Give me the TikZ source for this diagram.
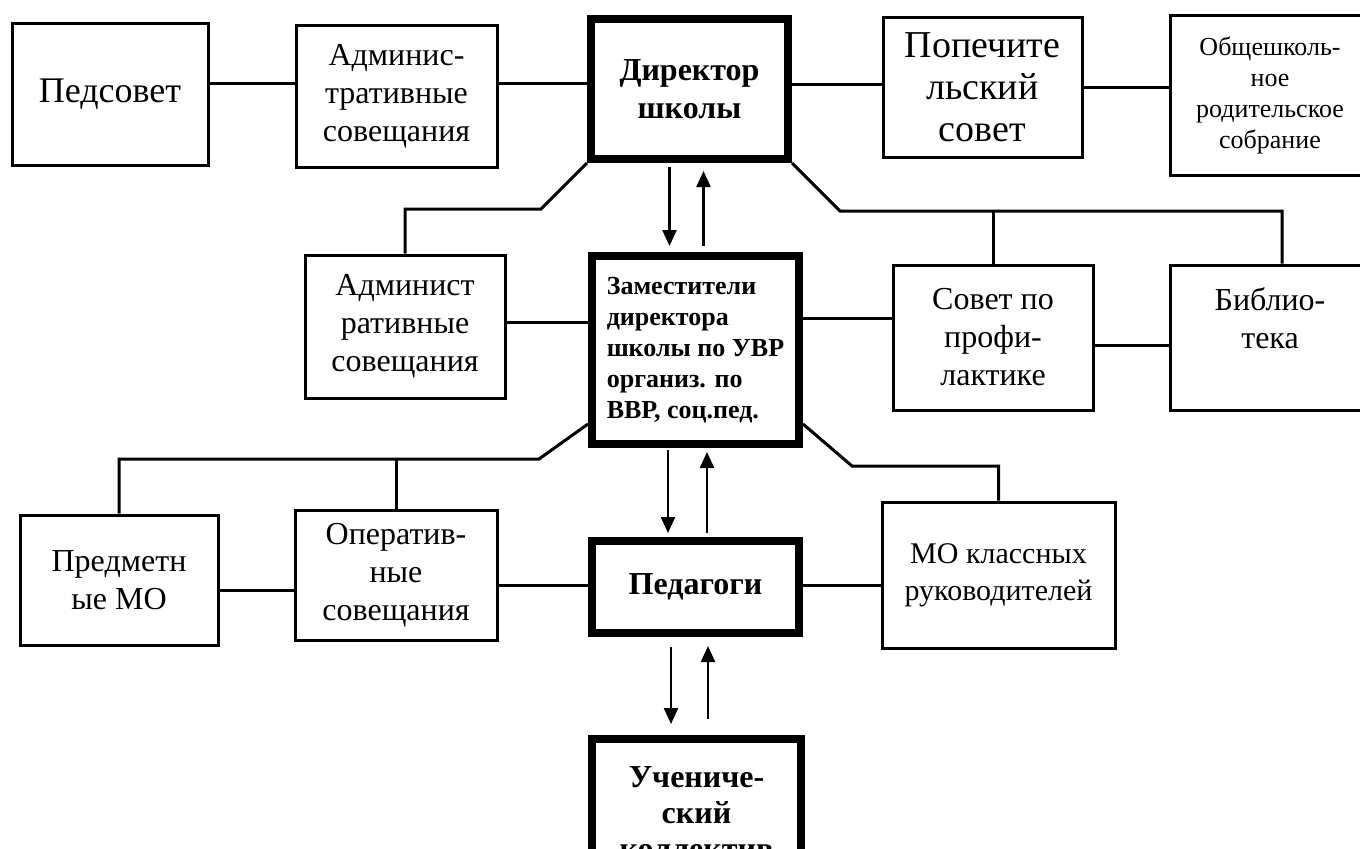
\documentclass[tikz,border=0pt]{standalone}
\usepackage{fontspec}
\setmainfont{Liberation Serif}
\usetikzlibrary{arrows.meta}
\tikzset{%
    >={Triangle[length=8pt,width=7pt]},
    orgbox/.style={draw, line width=1.5pt, align=center, inner sep=0pt,
        font=\fontsize{16}{19}\selectfont},
    headbox/.style={orgbox, line width=4pt, font=\bfseries\fontsize{16}{19}\selectfont},
    link/.style={line width=1.5pt},
    flow/.style={line width=1.2pt, ->}
}
\newcommand\HLink[3]{%
    \coordinate (hl) at ([yshift=#3]#1.east);
    \draw[link] (hl) -- (hl -| #2.west)
}

\begin{document}
\begin{tikzpicture}[x=0.5pt,y=-0.5pt]
      \useasboundingbox (0,0) rectangle (1360,848);

      % top row
      \node[orgbox, minimum width=98pt, minimum height=71pt, font=\fontsize{18}{21}\selectfont] (pedsovet) at (110,94) {Педсовет};
      \node[orgbox, minimum width=100.5pt, minimum height=71pt] (admtop) at (396.5,96) {Админис-\\тративные\\совещания};
      \node[headbox, minimum width=98.5pt, minimum height=70pt] (director) at (689.5,89) {Директор\\школы};
      \node[orgbox, minimum width=99.5pt, minimum height=70pt, font=\fontsize{19}{21}\selectfont] (trustees) at (982.5,87) {Попечите\\льский\\совет};
      \node[orgbox, minimum width=100pt, minimum height=80pt, font=\fontsize{13}{15.5}\selectfont] (parents) at (1270,95) {Общешколь-\\ное\\родительское\\собрание};

      % middle row
      \node[orgbox, minimum width=100pt, minimum height=71.5pt] (admmid) at (405,326.5) {Админист\\ративные\\совещания};
      \node[headbox, minimum width=103.5pt, minimum height=94pt, align=left, font=\bfseries\fontsize{13}{15.5}\selectfont] (deputies) at (695.5,350) {Заместители\\директора\\школы по УВР\\организ. по\\ВВР, соц.пед.};
      \node[orgbox, minimum width=100pt, minimum height=72.5pt] (prevention) at (993,337.5) {Совет по\\профи-\\лактике};
      \node[orgbox, minimum width=100pt, minimum height=72.5pt] (library) at (1270,337.5) {Библио-\\тека\\~};

      % lower rows
      \node[orgbox, minimum width=99pt, minimum height=65pt] (subjects) at (119,580) {Предметн\\ые МО};
      \node[orgbox, minimum width=101pt, minimum height=65pt] (operative) at (396,575) {Оператив-\\ные\\совещания};
      \node[headbox, minimum width=103.5pt, minimum height=46pt] (teachers) at (695.5,587) {Педагоги};
      \node[orgbox, minimum width=116.5pt, minimum height=73pt, font=\fontsize{15}{18.5}\selectfont] (tutors) at (998.5,575) {МО классных\\руководителей};
      \node[headbox, minimum width=104.5pt, minimum height=74pt, font=\bfseries\fontsize{16}{18}\selectfont] (pupils) at (696.5,813) {Учениче-\\ский\\коллектив};

      % horizontal links
      \HLink{pedsovet}{admtop}{5.5pt};
      \HLink{admtop}{director}{6.5pt};
      \HLink{director}{trustees}{2.5pt};
      \HLink{trustees}{parents}{0pt};
      \HLink{admmid}{deputies}{2pt};
      \HLink{deputies}{prevention}{16pt};
      \HLink{prevention}{library}{-3.75pt};
      \HLink{subjects}{operative}{-5pt};
      \HLink{operative}{teachers}{-5pt};
      \HLink{teachers}{tutors}{1pt};

      % branches from the director
      \coordinate (dirL) at ([shift={(-46,46)}]director.south west);
      \coordinate (dirR) at ([shift={(48,48)}]director.south east);
      \draw[link] (director.south west) -- (dirL) -| (admmid.north);
      \draw[link] (director.south east) -- (dirR) -| ([xshift=6pt]library.north);
      \draw[link] (prevention.north) -- (prevention.north |- dirR);

      % branches from the deputies
      \coordinate (depL) at ([shift={(-49,11)}]deputies.south west);
      \coordinate (depR) at ([shift={(49,18)}]deputies.south east);
      \draw[link] ([yshift=12pt]deputies.south west) -- (depL) -| (subjects.north);
      \draw[link] (operative.north) -- (operative.north |- depL);
      \draw[link] ([yshift=12pt]deputies.south east) -- (depR) -| (tutors.north);

      % two-way arrows
      \coordinate (dA) at ([xshift=-10pt]director.south);
      \coordinate (dB) at ([xshift=7pt]director.south);
      \draw[flow, shorten <=2pt, shorten >=3pt] (dA) -- (dA |- deputies.north);
      \draw[flow, shorten <=3pt, shorten >=4pt] (dB |- deputies.north) -- (dB);

      \coordinate (zA) at ([xshift=-13.75pt]deputies.south);
      \coordinate (zB) at ([xshift=5.75pt]deputies.south);
      \draw[flow, shorten <=1pt, shorten >=2pt] (zA) -- (zA |- teachers.north);
      \draw[flow, shorten <=2pt, shorten >=2pt] (zB |- teachers.north) -- (zB);

      \coordinate (tA) at ([xshift=-12.25pt]teachers.south);
      \coordinate (tB) at ([xshift=6.25pt]teachers.south);
      \draw[flow, shorten <=5pt, shorten >=5.5pt] (tA) -- (tA |- pupils.north);
      \draw[flow, shorten <=8pt, shorten >=4.5pt] (tB |- pupils.north) -- (tB);
\end{tikzpicture}
\end{document}
